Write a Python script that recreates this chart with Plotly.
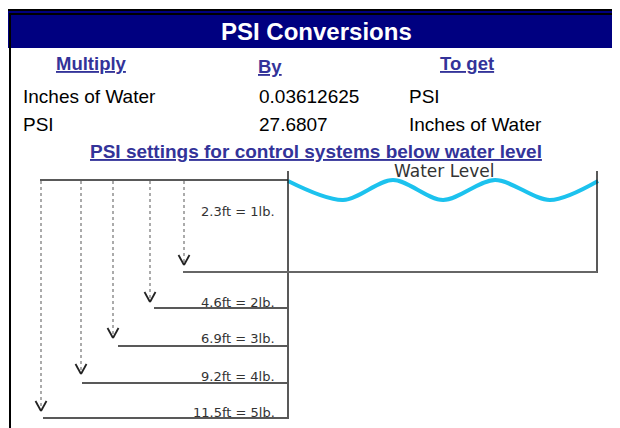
import plotly.graph_objects as go

# ---- data ----
col_headers = ["Multiply", "By", "To get"]
conv_from = ["Inches of Water", "PSI"]
conv_factor = ["0.03612625", "27.6807"]
conv_to = ["PSI", "Inches of Water"]
depth_ft = [2.3, 4.6, 6.9, 9.2, 11.5]
psi_lb = [1, 2, 3, 4, 5]
title = "PSI Conversions"
subtitle = "PSI settings for control systems below water level"
water_label = "Water Level"

# ---- diagram geometry (pixel space) ----
arrow_x = [184, 150, 113, 81, 41]
arrow_tip = [265, 302, 338, 374, 411]
level_y = [272, 308, 346, 383, 418]
level_x0 = [183, 154, 118, 82, 43]
label_y = [211, 302, 338, 376, 412]
wave_x = [288, 343, 393, 443, 495, 550, 598]
wave_y = [181, 200, 180, 200, 180, 200, 181]

NAVY = "#000080"
BLUE = "#333399"
FONT = "Liberation Sans, Arial, sans-serif"
OFF = 8  # page body margin

fig = go.Figure()
shapes = []
ann = []

def line(x0, y0, x1, y1, color="black", width=1.5, dash="solid"):
    shapes.append(dict(type="line", xref="x", yref="y", x0=x0, y0=y0, x1=x1, y1=y1,
                       line=dict(color=color, width=width, dash=dash)))

def text(x, y, s, size, color="black", xa="left", family=FONT):
    ann.append(dict(x=x, y=y, xref="x", yref="y", text=s, showarrow=False,
                    xanchor=xa, yanchor="middle",
                    font=dict(size=size, color=color, family=family)))

# header band and borders
shapes.append(dict(type="rect", xref="x", yref="y", x0=7, y0=11, x1=700, y1=48,
                   fillcolor=NAVY, line=dict(width=0), layer="below"))
shapes.append(dict(type="rect", xref="x", yref="y", x0=6, y0=10, x1=700, y1=500,
                   line=dict(color="black", width=2)))
shapes.append(dict(type="rect", xref="x", yref="y", x0=10, y0=14, x1=700, y1=500,
                   line=dict(color="black", width=2)))

text(316, 31, "<b>" + title + "</b>", 24, "white", xa="center")

# column headers
hdr_x = [91, 270, 467]
hdr_y = [63, 66, 63]
for hx, hy, h in zip(hdr_x, hdr_y, col_headers):
    text(hx, hy, "<b><u>" + h + "</u></b>", 18.5, BLUE, xa="center")

row_y = [96, 124]
for ry, a, b, c in zip(row_y, conv_from, conv_factor, conv_to):
    text(21, ry, a, 19)
    text(257, ry, b, 19)
    text(407, ry, c, 19)

text(316, 151, "<b><u>" + subtitle + "</u></b>", 19, BLUE, xa="center")

# tank
line(40, 180, 288, 180, "#222", 1.5)
line(288, 171, 288, 419, "#222", 1.5)
line(597, 171, 597, 273, "#222", 1.5)
line(183, 272, 597, 272, "#666", 2)

text(444, 171, water_label, 17, "#333", xa="center",
     family="DejaVu Sans, sans-serif")

fig.add_trace(go.Scatter(x=wave_x, y=wave_y, mode="lines",
                         line=dict(color="#1cc2ee", width=4, shape="spline", smoothing=0.9),
                         hoverinfo="skip", showlegend=False))

for i in range(len(depth_ft)):
    ax = arrow_x[i]
    tip = arrow_tip[i]
    line(ax, 181, ax, tip - 1, "#888", 1.4, "dot")
    line(ax - 5.5, tip - 10, ax, tip, "#222", 1.8)
    line(ax, tip, ax + 5.5, tip - 10, "#222", 1.8)
    if i > 0:
        line(level_x0[i], level_y[i], 287, level_y[i], "#222", 1.5)
    lbl = f"{depth_ft[i]}ft = {psi_lb[i]}lb."
    text(277, label_y[i], lbl, 13, "#333", xa="right",
         family="DejaVu Sans, sans-serif")

fig.update_layout(
    width=620, height=428,
    margin=dict(l=0, r=0, t=0, b=0),
    paper_bgcolor="white", plot_bgcolor="white",
    xaxis=dict(range=[OFF, 620 + OFF], visible=False, fixedrange=True),
    yaxis=dict(range=[428 + OFF, OFF], visible=False, fixedrange=True),
    shapes=shapes, annotations=ann, showlegend=False,
)

fig.write_html("out.html", config={"displayModeBar": False})
